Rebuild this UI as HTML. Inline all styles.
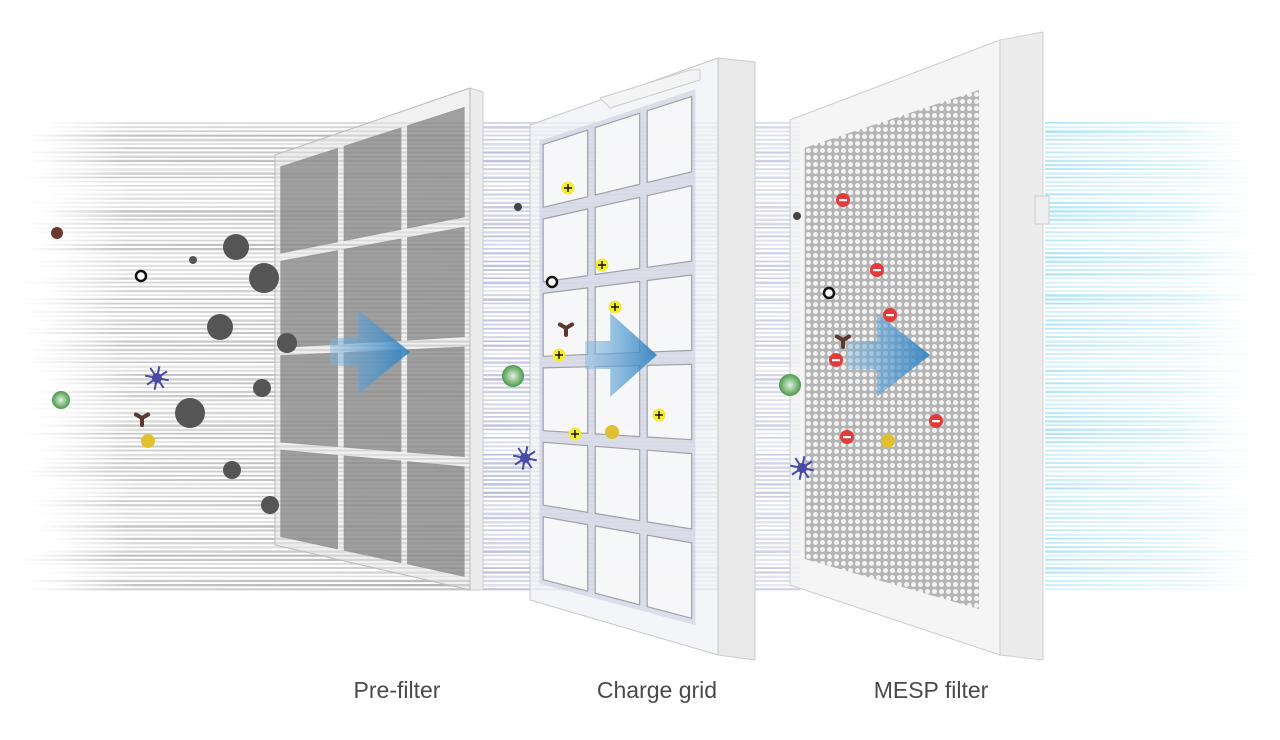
<!DOCTYPE html>
<html><head><meta charset="utf-8"><style>
html,body{margin:0;padding:0;background:#fff;width:1280px;height:740px;overflow:hidden}
.lbl{position:absolute;top:677px;font:23px "Liberation Sans",sans-serif;color:#4a4a4a;transform:translateX(-50%);white-space:nowrap}
</style></head><body>
<svg id="s" width="1280" height="740" viewBox="0 0 1280 740" xmlns="http://www.w3.org/2000/svg" style="position:absolute;left:0;top:0">
<defs>
<linearGradient id="gl" x1="0" x2="1"><stop offset="0" stop-color="#aaa" stop-opacity="0"/><stop offset="0.2" stop-color="#999" stop-opacity="0.7"/><stop offset="1" stop-color="#888" stop-opacity="0.8"/></linearGradient>
<linearGradient id="gm" x1="0" x2="1"><stop offset="0" stop-color="#9aa0c8" stop-opacity="0.8"/><stop offset="1" stop-color="#a8aed0" stop-opacity="0.7"/></linearGradient>
<linearGradient id="gr" x1="0" x2="1"><stop offset="0" stop-color="#7fd3ee" stop-opacity="0.8"/><stop offset="0.7" stop-color="#9fe0f4" stop-opacity="0.5"/><stop offset="1" stop-color="#bfeaf8" stop-opacity="0"/></linearGradient>
<linearGradient id="ar" x1="0" x2="1"><stop offset="0" stop-color="#7fb6e0" stop-opacity="0.5"/><stop offset="1" stop-color="#2a7fc0"/></linearGradient>
<pattern id="hc" width="7" height="7" patternUnits="userSpaceOnUse"><rect width="7" height="7" fill="#9a9a9a"/><circle cx="3.5" cy="3.5" r="2.5" fill="#f2f2f2"/></pattern>
<radialGradient id="gb"><stop offset="0" stop-color="#dff2df"/><stop offset="1" stop-color="#4a9a4a"/></radialGradient>
</defs>
<g id="lines"></g>
<g id="panels"></g>
<g id="parts"></g>
</svg>
<div class="lbl" style="left:397px">Pre-filter</div>
<div class="lbl" style="left:657px">Charge grid</div>
<div class="lbl" style="left:931px">MESP filter</div>
<script>
var NS="http://www.w3.org/2000/svg";
function el(p,t,a){var e=document.createElementNS(NS,t);for(var k in a)e.setAttribute(k,a[k]);document.getElementById(p).appendChild(e);return e;}
var seed=7;function rnd(){seed=(seed*9301+49297)%233280;return seed/233280;}
for(var y=122;y<592;y+=4.2){
 var x0=20+rnd()*40;
 el("lines","rect",{x:x0,y:y,width:470-x0,height:1.6+rnd(),fill:"url(#gl)",opacity:0.35+rnd()*0.5});
 el("lines","rect",{x:480,y:y,width:320,height:1.6+rnd(),fill:"url(#gm)",opacity:0.35+rnd()*0.5});
 el("lines","rect",{x:1045,y:y,width:190+rnd()*30,height:1.6+rnd(),fill:"url(#gr)",opacity:0.35+rnd()*0.5});
}
function bl(Q,u,v){var x=(1-u)*(1-v)*Q[0][0]+u*(1-v)*Q[1][0]+u*v*Q[2][0]+(1-u)*v*Q[3][0];
 var y=(1-u)*(1-v)*Q[0][1]+u*(1-v)*Q[1][1]+u*v*Q[2][1]+(1-u)*v*Q[3][1];return x.toFixed(1)+","+y.toFixed(1);}
function poly(Q,u0,v0,u1,v1,a){a.points=[bl(Q,u0,v0),bl(Q,u1,v0),bl(Q,u1,v1),bl(Q,u0,v1)].join(" ");return el("panels","polygon",a);}
function cells(Q,cols,rows,U0,V0,U1,V1,g,a){
 var cw=(U1-U0-(cols-1)*g)/cols,ch=(V1-V0-(rows-1)*g*0.6)/rows;
 for(var i=0;i<cols;i++)for(var j=0;j<rows;j++){var u=U0+i*(cw+g),v=V0+j*(ch+g*0.6);var b={};for(var k in a)b[k]=a[k];poly(Q,u,v,u+cw,v+ch,b);}
}
var P=[[275,155],[470,88],[470,590],[275,545]];
el("panels","polygon",{points:"470,88 483,92 483,590 470,590",fill:"#ececec",stroke:"#ccc"});
poly(P,0,0,1,1,{fill:"#e6e6e6","fill-opacity":0.55,stroke:"#bbb"});
cells(P,3,4,0.03,0.035,0.97,0.975,0.035,{fill:"#6a6a6a","fill-opacity":0.6,stroke:"#999"});
var C=[[530,125],[718,58],[718,655],[530,600]];
el("panels","polygon",{points:"718,58 755,62 755,660 718,655",fill:"#e9e9e9",stroke:"#ccc"});
poly(C,0,0,1,1,{fill:"#f0f1f5","fill-opacity":0.75,stroke:"#c8c8c8"});
poly(C,0.05,0.04,0.88,0.96,{fill:"#c6cadb","fill-opacity":0.55});
cells(C,3,6,0.07,0.05,0.86,0.95,0.04,{fill:"#fafafb","fill-opacity":0.88,stroke:"#a0a0a8","stroke-width":1.2,"stroke-linejoin":"round"});
el("panels","polygon",{points:"600,98 690,70 700,70 700,80 610,108",fill:"#f4f4f4",stroke:"#ccc"});
var M=[[790,120],[1000,40],[1000,655],[790,585]];
el("panels","polygon",{points:"1000,40 1043,32 1043,660 1000,655",fill:"#ececec",stroke:"#d0d0d0"});
el("panels","rect",{x:1035,y:196,width:14,height:28,fill:"#eee",stroke:"#ccc"});
poly(M,0,0,1,1,{fill:"#f3f3f3","fill-opacity":0.8,stroke:"#ccc"});
poly(M,0.07,0.07,0.9,0.935,{fill:"url(#hc)","fill-opacity":0.7});
[[330,410,352],[585,657,355],[848,930,355]].forEach(function(a){
 var x0=a[0],x1=a[1],c=a[2],w=x1-x0;
 el("panels","polygon",{points:[x0,c-14,x0+w*0.35,c-14,x0+w*0.35,c-42,x1,c,x0+w*0.35,c+42,x0+w*0.35,c+14,x0,c+14].join(" "),fill:"url(#ar)",opacity:0.9});
});
function c(x,y,r,f,o){el("parts","circle",{cx:x,cy:y,r:r,fill:f,stroke:o||"none","stroke-width":o?2.5:0});}
[[236,247,13],[264,278,15],[220,327,13],[287,343,10],[262,388,9],[190,413,15],[232,470,9],[270,505,9],[193,260,4]].forEach(function(p){c(p[0],p[1],p[2],"#555");});
c(57,233,6,"#6a3a32");c(141,276,5,"#fff","#111");c(61,400,9,"url(#gb)");c(148,441,7,"#e0c030");
c(518,207,4,"#444");c(552,282,5,"#fff","#111");c(513,376,11,"url(#gb)");c(612,432,7,"#e0c030");
c(797,216,4,"#444");c(829,293,5,"#fff","#111");c(790,385,11,"url(#gb)");c(888,441,7,"#e0c030");
function tri(x,y){for(var k=0;k<3;k++){var a=-Math.PI/2+k*2*Math.PI/3+Math.PI;el("parts","line",{x1:x,y1:y,x2:x+Math.cos(a)*7,y2:y+Math.sin(a)*7,stroke:"#5a3a30","stroke-width":4,"stroke-linecap":"round"});}}
tri(142,418);tri(566,328);tri(843,340);
function bug(x,y){for(var k=0;k<8;k++){var a=k*Math.PI/4+0.2;el("parts","line",{x1:x,y1:y,x2:x+Math.cos(a)*12,y2:y+Math.sin(a)*12,stroke:"#4a4aa8","stroke-width":2});}c(x,y,5,"#4a4aa8");}
bug(157,378);bug(525,458);bug(802,468);
function plus(x,y){c(x,y,6.5,"#f4ec30");el("parts","path",{d:"M"+(x-4)+" "+y+"h8M"+x+" "+(y-4)+"v8",stroke:"#111","stroke-width":1.4});}
[[568,188],[602,265],[615,307],[559,355],[659,415],[575,434]].forEach(function(p){plus(p[0],p[1]);});
function minus(x,y){c(x,y,7,"#e23b3b");el("parts","rect",{x:x-4,y:y-1,width:8,height:2.2,fill:"#fff"});}
[[843,200],[877,270],[890,315],[836,360],[936,421],[847,437]].forEach(function(p){minus(p[0],p[1]);});
</script>
</body></html>
